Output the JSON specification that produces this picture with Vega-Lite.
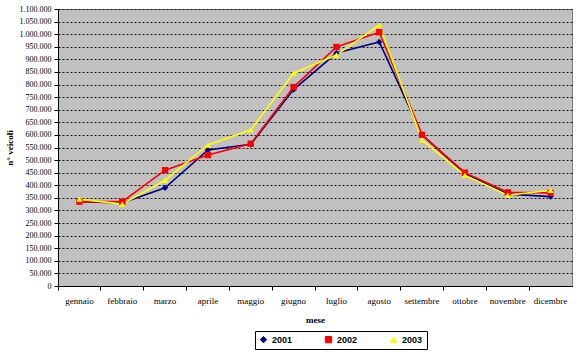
{
  "$schema": "https://vega.github.io/schema/vega-lite/v6.json",
  "width": 514,
  "height": 277,
  "autosize": {"type": "none"},
  "padding": {"left": 58, "top": 9, "right": 12, "bottom": 70},
  "background": "white",
  "config": {
    "locale": {"number": {"decimal": ",", "thousands": ".", "grouping": [3], "currency": ["€", ""]}},
    "font": "Liberation Serif",
    "view": {"fill": "#C0C0C0", "stroke": "#808080", "strokeWidth": 1}
  },
  "data": {
    "values": [
      {"mese": "gennaio", "anno": "2001", "v": 335000},
      {"mese": "febbraio", "anno": "2001", "v": 330000},
      {"mese": "marzo", "anno": "2001", "v": 390000},
      {"mese": "aprile", "anno": "2001", "v": 540000},
      {"mese": "maggio", "anno": "2001", "v": 563000},
      {"mese": "giugno", "anno": "2001", "v": 780000},
      {"mese": "luglio", "anno": "2001", "v": 925000},
      {"mese": "agosto", "anno": "2001", "v": 969000},
      {"mese": "settembre", "anno": "2001", "v": 600000},
      {"mese": "ottobre", "anno": "2001", "v": 445000},
      {"mese": "novembre", "anno": "2001", "v": 365000},
      {"mese": "dicembre", "anno": "2001", "v": 355000},
      {"mese": "gennaio", "anno": "2002", "v": 335000},
      {"mese": "febbraio", "anno": "2002", "v": 335000},
      {"mese": "marzo", "anno": "2002", "v": 460000},
      {"mese": "aprile", "anno": "2002", "v": 520000},
      {"mese": "maggio", "anno": "2002", "v": 565000},
      {"mese": "giugno", "anno": "2002", "v": 790000},
      {"mese": "luglio", "anno": "2002", "v": 949000},
      {"mese": "agosto", "anno": "2002", "v": 1008000},
      {"mese": "settembre", "anno": "2002", "v": 600000},
      {"mese": "ottobre", "anno": "2002", "v": 450000},
      {"mese": "novembre", "anno": "2002", "v": 372000},
      {"mese": "dicembre", "anno": "2002", "v": 370000},
      {"mese": "gennaio", "anno": "2003", "v": 345000},
      {"mese": "febbraio", "anno": "2003", "v": 325000},
      {"mese": "marzo", "anno": "2003", "v": 420000},
      {"mese": "aprile", "anno": "2003", "v": 560000},
      {"mese": "maggio", "anno": "2003", "v": 620000},
      {"mese": "giugno", "anno": "2003", "v": 845000},
      {"mese": "luglio", "anno": "2003", "v": 917000},
      {"mese": "agosto", "anno": "2003", "v": 1036000},
      {"mese": "settembre", "anno": "2003", "v": 580000},
      {"mese": "ottobre", "anno": "2003", "v": 440000},
      {"mese": "novembre", "anno": "2003", "v": 360000},
      {"mese": "dicembre", "anno": "2003", "v": 380000}
    ]
  },
  "encoding": {
    "x": {
      "field": "mese",
      "type": "nominal",
      "sort": null,
      "bandPosition": 0.5,
      "scale": {"type": "band", "paddingInner": 0, "paddingOuter": 0},
      "axis": {
        "title": "mese",
        "titleFont": "Liberation Serif",
        "titleFontSize": 9,
        "titleFontWeight": "bold",
        "titleColor": "black",
        "titlePadding": 10,
        "labelAngle": 0,
        "labelFont": "Liberation Serif",
        "labelFontSize": 9,
        "labelColor": "black",
        "labelPadding": 6,
        "bandPosition": 0,
        "domainColor": "black",
        "tickColor": "black",
        "tickSize": 4,
        "grid": false
      }
    },
    "y": {
      "field": "v",
      "type": "quantitative",
      "scale": {"domain": [0, 1100000], "nice": false},
      "axis": {
        "title": "n° veicoli",
        "titleFont": "Liberation Serif",
        "titleFontSize": 9,
        "titleFontWeight": "bold",
        "titleColor": "black",
        "titlePadding": 5,
        "values": [0, 50000, 100000, 150000, 200000, 250000, 300000, 350000, 400000, 450000, 500000, 550000, 600000, 650000, 700000, 750000, 800000, 850000, 900000, 950000, 1000000, 1050000, 1100000],
        "format": ",d",
        "labelFont": "Liberation Serif",
        "labelFontSize": 8,
        "labelColor": "black",
        "labelPadding": 3,
        "domainColor": "black",
        "tickColor": "black",
        "tickSize": 4,
        "grid": true,
        "gridColor": "black",
        "gridDash": [2, 2],
        "gridWidth": 1,
        "gridOpacity": 0.9
      }
    },
    "color": {
      "field": "anno",
      "type": "nominal",
      "scale": {"domain": ["2001", "2002", "2003"], "range": ["#000080", "#FF0000", "#FFFF00"]},
      "legend": {
        "title": null,
        "orient": "none",
        "legendX": 197,
        "legendY": 322,
        "direction": "horizontal",
        "strokeColor": "black",
        "padding": 4,
        "columnPadding": 30,
        "labelFont": "Liberation Sans",
        "labelFontSize": 9,
        "labelFontWeight": "bold",
        "labelColor": "black",
        "symbolSize": 40,
        "symbolStrokeWidth": 1
      }
    },
    "shape": {
      "field": "anno",
      "type": "nominal",
      "scale": {"domain": ["2001", "2002", "2003"], "range": ["diamond", "square", "triangle-up"]},
      "legend": null
    }
  },
  "layer": [
    {"mark": {"type": "line", "strokeWidth": 1.6}, "encoding": {"shape": null}},
    {"mark": {"type": "point", "filled": true, "size": 40, "opacity": 1}}
  ]
}
